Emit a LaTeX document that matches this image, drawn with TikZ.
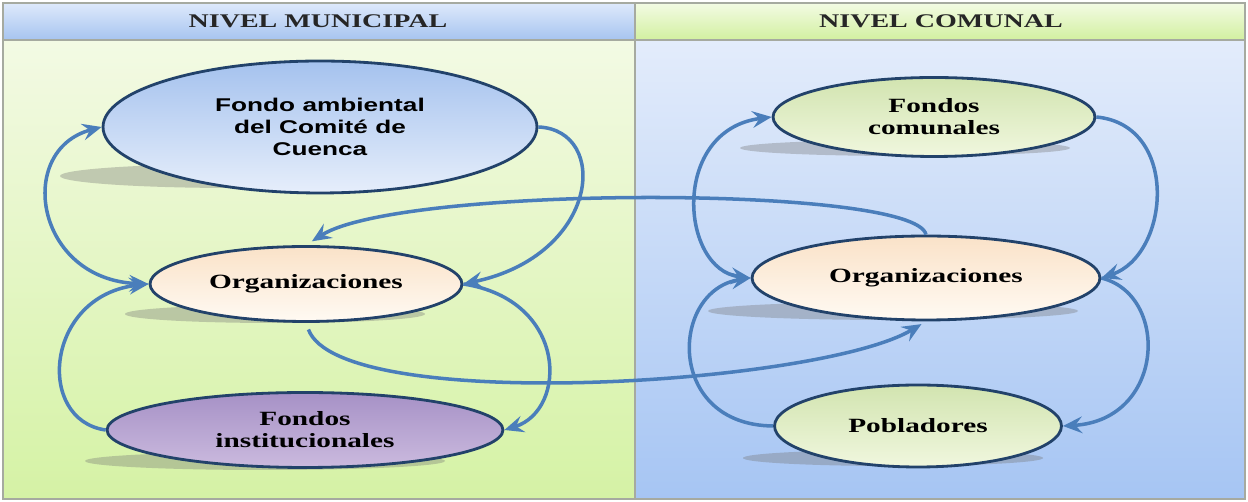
\documentclass[tikz,border=0pt]{standalone}
\usepackage{fontspec}
\usepackage{tikz}
\usetikzlibrary{positioning, arrows.meta}
\usetikzlibrary{shapes.geometric}

\newfontfamily\serifnivel[FakeStretch=1.45]{Liberation Serif}
\newfontfamily\sansfondo[FakeStretch=1.42]{Liberation Sans}

\definecolor{flujo}{HTML}{4A7EBB}
\definecolor{borde}{HTML}{22426A}
\definecolor{marco}{HTML}{A6AAA0}

\begin{document}
\begin{tikzpicture}[x=0.02cm, y=-0.02cm,
        >={Stealth[length=11pt, width=9.5pt, inset=4pt]},
        nodo/.style={ellipse, draw=borde, line width=1.6pt, inner sep=0pt, align=center,
            font=\serifnivel\bfseries\fontsize{11.5}{12.5}\selectfont},
        flecha/.style={draw=flujo, line width=2pt, ->},
        sombra/.style={fill=black!55, opacity=0.35}]
    \useasboundingbox (0,0) rectangle (1248,502);

    % paneles
    \shade[top color={rgb,255:red,243;green,250;blue,228}, bottom color={rgb,255:red,213;green,242;blue,165}] (3,40) rectangle (635,499);
    \shade[top color={rgb,255:red,227;green,236;blue,251}, bottom color={rgb,255:red,166;green,197;blue,243}] (635,40) rectangle (1245,499);
    \shade[top color={rgb,255:red,222;green,233;blue,251}, bottom color={rgb,255:red,166;green,196;blue,240}] (3,3) rectangle (635,40);
    \shade[top color={rgb,255:red,243;green,251;blue,228}, bottom color={rgb,255:red,210;green,240;blue,160}] (635,3) rectangle (1245,40);
    \draw[marco, line width=0.8pt] (3,3) rectangle (1245,499);
    \draw[marco, line width=0.8pt] (3,40) -- (1245,40);
    \draw[marco, line width=0.8pt] (635,3) -- (635,499);

    \node[font=\serifnivel\bfseries\fontsize{11}{12}\selectfont, text=black!85] (hmun) at (318,21) {NIVEL MUNICIPAL};
    \node[font=\serifnivel\bfseries\fontsize{11}{12}\selectfont, text=black!85] (hcom) at (941,21) {NIVEL COMUNAL};

    % sombras
    \fill[sombra] (235,176) ellipse [x radius=175, y radius=12];
    \fill[sombra] (275,314) ellipse [x radius=150, y radius=9];
    \fill[sombra] (265,461) ellipse [x radius=180, y radius=9];
    \fill[sombra] (905,148) ellipse [x radius=165, y radius=8];
    \fill[sombra] (893,311) ellipse [x radius=185, y radius=9];
    \fill[sombra] (893,458) ellipse [x radius=150, y radius=8];

    % nivel municipal
    \node[nodo, minimum width=8.68cm, minimum height=2.64cm, top color={rgb,255:red,165;green,194;blue,238}, bottom color={rgb,255:red,230;green,238;blue,251},
        font=\sansfondo\bfseries\fontsize{10.5}{12.4}\selectfont] (fondoA) at (320,127) {Fondo ambiental\\del Comité de\\Cuenca};
    \node[nodo, minimum width=6.24cm, minimum height=1.5cm, top color={rgb,255:red,250;green,226;blue,200}, bottom color={rgb,255:red,255;green,250;blue,243}] (orgM) at (306,284) {Organizaciones};
    \node[nodo, minimum width=7.92cm, minimum height=1.5cm, top color={rgb,255:red,166;green,145;blue,198}, bottom color={rgb,255:red,203;green,186;blue,222}] (instF) at (305,430) {Fondos\\institucionales};

    % nivel comunal
    \node[nodo, minimum width=6.44cm, minimum height=1.58cm, top color={rgb,255:red,210;green,228;blue,176}, bottom color={rgb,255:red,240;green,247;blue,222}] (fondoC) at (934,117) {Fondos\\comunales};
    \node[nodo, minimum width=6.96cm, minimum height=1.68cm, top color={rgb,255:red,250;green,226;blue,200}, bottom color={rgb,255:red,255;green,250;blue,243}] (orgC) at (926,278) {Organizaciones};
    \node[nodo, minimum width=5.74cm, minimum height=1.64cm, top color={rgb,255:red,210;green,228;blue,176}, bottom color={rgb,255:red,240;green,247;blue,222}] (pobl) at (918,426) {Pobladores};

    % flujos municipales
    \draw[flecha, <->] (orgM.west) .. controls (35,280) and (15,150) .. (fondoA.west);
    \draw[flecha] (fondoA.east) .. controls (610,130) and (600,255) .. (orgM.east);
    \draw[flecha] (orgM.east) .. controls (568,300) and (568,410) .. (instF.east);
    \draw[flecha] (instF.west) .. controls (35,420) and (45,295) .. (orgM.west);

    % flujos comunales
    \draw[flecha, <->] (orgC.west) .. controls (680,270) and (670,130) .. (fondoC.west);
    \draw[flecha] (fondoC.east) .. controls (1180,125) and (1170,255) .. (orgC.east);
    \draw[flecha] (orgC.east) .. controls (1170,295) and (1165,420) .. (pobl.east);
    \draw[flecha] (pobl.west) .. controls (665,425) and (670,290) .. (orgC.west);

    % entre niveles
    \draw[flecha, shorten >=4pt] (orgC.north) .. controls (915,185) and (400,185) .. (orgM.north);
    \draw[flecha, shorten <=4pt, shorten >=3pt] (orgM.south) .. controls (340,415) and (820,385) .. (orgC.south);
\end{tikzpicture}
\end{document}
